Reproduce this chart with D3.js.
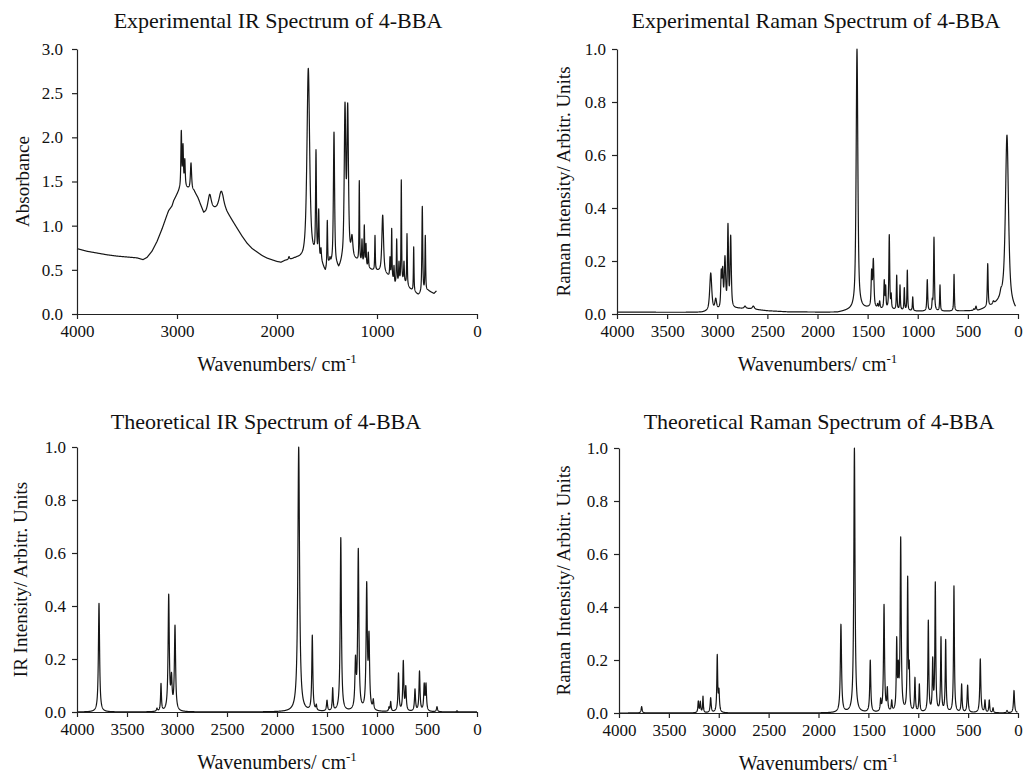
<!DOCTYPE html>
<html>
<head>
<meta charset="utf-8">
<script src="https://cdn.jsdelivr.net/npm/d3@7"></script>
<style>
  body { margin: 0; background: #fff; }
  text { font-family: "Liberation Serif", "Times New Roman", serif; fill: #111; }
</style>
</head>
<body>
<script>
// ---------------------------------------------------------------
// Spectral data for 4-bromobenzoic acid (4-BBA)
// Band lists: [wavenumber / cm-1, peak top, half width / cm-1]
// Baselines: [wavenumber / cm-1, value]
// ---------------------------------------------------------------

const expIRBaseline = [
  [4000, 0.74], [3900, 0.71], [3800, 0.69], [3700, 0.67], [3600, 0.655], [3500, 0.645],
  [3400, 0.635], [3340, 0.615], [3300, 0.64], [3250, 0.71], [3200, 0.82], [3150, 0.96],
  [3100, 1.12], [3083, 1.17], [3050, 1.22], [3033, 1.28], [3000, 1.35], [2975, 1.40],
  [2950, 1.43], [2920, 1.44], [2900, 1.42], [2870, 1.41], [2830, 1.39], [2790, 1.31],
  [2750, 1.19], [2733, 1.14], [2710, 1.15], [2690, 1.18], [2650, 1.19], [2620, 1.19],
  [2600, 1.20], [2570, 1.24], [2540, 1.24], [2500, 1.15], [2450, 1.06], [2400, 0.97],
  [2350, 0.88], [2300, 0.80], [2250, 0.74], [2200, 0.70], [2150, 0.66], [2100, 0.63],
  [2050, 0.61], [2000, 0.59], [1960, 0.58], [1920, 0.60], [1860, 0.61], [1800, 0.62],
  [1760, 0.61], [1740, 0.60], [1700, 0.62], [1650, 0.63], [1600, 0.61], [1550, 0.55],
  [1517, 0.46], [1480, 0.55], [1450, 0.54], [1400, 0.51], [1383, 0.48], [1350, 0.55],
  [1250, 0.62], [1200, 0.59], [1150, 0.56], [1100, 0.52], [1050, 0.49], [1000, 0.48],
  [950, 0.46], [900, 0.43], [850, 0.39], [820, 0.32], [780, 0.34], [737, 0.36],
  [700, 0.32], [670, 0.28], [620, 0.24], [587, 0.21], [560, 0.22], [520, 0.24],
  [490, 0.26], [470, 0.25], [430, 0.23], [405, 0.26]
];

const expIRBands = [
  [2957, 2.08, 5], [2940, 1.93, 5], [2922, 1.76, 5], [2860, 1.71, 7],
  [2673, 1.355, 18], [2557, 1.39, 22],
  [1880, 0.65, 6], [1830, 0.64, 5], [1780, 0.66, 6],
  [1687, 2.78, 16], [1610, 1.86, 5], [1583, 1.19, 5], [1560, 0.75, 5],
  [1497, 1.06, 4], [1470, 0.65, 4], [1430, 2.06, 7],
  [1320, 2.40, 9], [1293, 2.39, 9], [1250, 0.90, 10],
  [1177, 1.51, 3.5], [1150, 0.85, 4], [1127, 1.01, 4], [1110, 0.80, 4], [1087, 0.70, 4],
  [1020, 0.89, 3.5], [943, 1.12, 10], [870, 0.65, 4], [853, 0.97, 3.5], [830, 0.55, 4],
  [803, 0.85, 4], [780, 0.60, 4], [757, 1.52, 3.5], [730, 0.60, 4], [700, 0.91, 3.5],
  [633, 0.76, 3.5], [547, 1.22, 5], [517, 0.89, 4]
];

const expRamanBaseline = [
  [4000, 0.007], [3150, 0.006], [2800, 0.02], [2700, 0.02], [2500, 0.012], [2300, 0.008],
  [1800, 0.006], [1700, 0.012], [1500, 0.02], [1000, 0.01], [700, 0.01], [400, 0.012],
  [250, 0.03], [150, 0.05], [25, 0.01]
];

const expRamanBands = [
  [3065, 0.155, 12], [3015, 0.06, 10], [2960, 0.17, 6], [2946, 0.18, 6], [2923, 0.22, 8],
  [2893, 0.342, 6], [2866, 0.298, 7], [2723, 0.03, 10], [2640, 0.03, 12],
  [1606, 1.0, 10], [1460, 0.17, 6], [1443, 0.21, 7], [1400, 0.04, 5], [1380, 0.05, 5],
  [1334, 0.13, 5], [1320, 0.11, 4], [1284, 0.30, 5], [1265, 0.08, 4], [1210, 0.147, 4],
  [1177, 0.11, 4], [1134, 0.10, 4], [1104, 0.166, 4], [1050, 0.065, 4],
  [905, 0.13, 5], [855, 0.06, 4], [838, 0.29, 5], [778, 0.11, 4], [638, 0.15, 4],
  [440, 0.02, 6], [419, 0.03, 6], [302, 0.19, 5], [245, 0.05, 8], [170, 0.10, 10],
  [110, 0.675, 18]
];

const theoIRBands = [
  [3780, 0.41, 7], [3200, 0.015, 6], [3160, 0.108, 5], [3083, 0.445, 7], [3055, 0.15, 7],
  [3020, 0.328, 7],
  [1783, 1.0, 10], [1647, 0.29, 6], [1607, 0.03, 5], [1500, 0.045, 6], [1443, 0.092, 5],
  [1362, 0.658, 7], [1215, 0.215, 7], [1187, 0.618, 7], [1103, 0.492, 7], [1080, 0.305, 7],
  [1037, 0.05, 6], [880, 0.02, 5], [863, 0.04, 5], [785, 0.148, 6], [737, 0.195, 6],
  [712, 0.10, 6], [620, 0.087, 6], [575, 0.155, 6], [528, 0.11, 6], [510, 0.11, 6],
  [400, 0.02, 6], [200, 0.005, 5]
];

const theoRamanBands = [
  [3773, 0.024, 6], [3205, 0.046, 5], [3185, 0.045, 5], [3158, 0.064, 4], [3081, 0.058, 6],
  [3015, 0.221, 5], [2998, 0.094, 6],
  [1775, 0.335, 7], [1640, 1.0, 7], [1481, 0.20, 6], [1377, 0.057, 5], [1343, 0.41, 6],
  [1310, 0.10, 5], [1266, 0.05, 5], [1216, 0.288, 5], [1200, 0.20, 5], [1176, 0.665, 6],
  [1106, 0.517, 5], [1090, 0.20, 5], [1033, 0.135, 5], [989, 0.11, 5], [899, 0.351, 5],
  [855, 0.212, 5], [829, 0.495, 5], [772, 0.288, 5], [725, 0.278, 5], [642, 0.48, 5],
  [565, 0.11, 5], [505, 0.105, 6], [378, 0.204, 6], [331, 0.05, 5], [288, 0.05, 5],
  [250, 0.02, 5], [110, 0.01, 5], [40, 0.085, 6]
];

const xTicksThousand = [4000, 3000, 2000, 1000, 0];
const xTicksFiveHundred = [4000, 3500, 3000, 2500, 2000, 1500, 1000, 500, 0];
const yTicksAbsorbance = [0, 0.5, 1.0, 1.5, 2.0, 2.5, 3.0];
const yTicksUnit = [0, 0.2, 0.4, 0.6, 0.8, 1.0];

// ---------------------------------------------------------------
// Band profile (pseudo-Voigt; eta = Lorentzian fraction)
function profile(d, hw, eta) {
  const t = d / hw;
  return eta / (1 + t * t) + (1 - eta) * Math.exp(-Math.LN2 * t * t);
}

// Sum of bands on top of a baseline; amplitudes are adjusted so that
// every band maximum sits at its listed peak top.
function spectrum(bands, baseline, from, to, eta) {
  const base = baseline
    ? d3.scaleLinear().domain(baseline.map(d => d[0])).range(baseline.map(d => d[1])).clamp(true)
    : () => 0;
  const amp = bands.map(b => Math.max(0, b[1] - base(b[0])));
  for (let it = 0; it < 60; it++) {
    bands.forEach((b, i) => {
      let y = base(b[0]);
      bands.forEach((c, j) => { y += amp[j] * profile(b[0] - c[0], c[2], eta); });
      amp[i] = Math.max(0, amp[i] + 0.5 * (b[1] - y));
    });
  }
  const pts = [];
  for (let w = from; w >= to; w -= 1) {
    let y = base(w);
    bands.forEach((c, j) => { y += amp[j] * profile(w - c[0], c[2], eta); });
    pts.push([w, y]);
  }
  return pts;
}

const W = 1023, H = 774;
const svg = d3.select("body").append("svg").attr("width", W).attr("height", H);

const panels = [
  {
    title: "Experimental IR Spectrum of 4-BBA", titleX: 278, titleY: 28,
    yLabel: "Absorbance", yLabelX: 22,
    x0: 77, x1: 477, yTop: 49, yBot: 314,
    yMax: 3.0, yTicks: yTicksAbsorbance, xTicks: xTicksThousand, yPad: 9,
    data: spectrum(expIRBands, expIRBaseline, 4000, 405, 0.7)
  },
  {
    title: "Experimental Raman Spectrum of 4-BBA", titleX: 816, titleY: 28,
    yLabel: "Raman Intensity/ Arbitr. Units", yLabelX: 563,
    x0: 617, x1: 1018, yTop: 49, yBot: 314,
    yMax: 1.0, yTicks: yTicksUnit, xTicks: xTicksFiveHundred, yPad: 6,
    data: spectrum(expRamanBands, expRamanBaseline, 4000, 25, 0.7)
  },
  {
    title: "Theoretical IR Spectrum of 4-BBA", titleX: 266, titleY: 429,
    yLabel: "IR Intensity/ Arbitr. Units", yLabelX: 20,
    x0: 77, x1: 477, yTop: 447, yBot: 712,
    yMax: 1.0, yTicks: yTicksUnit, xTicks: xTicksFiveHundred, yPad: 6,
    data: spectrum(theoIRBands, null, 4000, 0, 1)
  },
  {
    title: "Theoretical Raman Spectrum of 4-BBA", titleX: 819, titleY: 429,
    yLabel: "Raman Intensity/ Arbitr. Units", yLabelX: 563,
    x0: 619, x1: 1018, yTop: 448, yBot: 713,
    yMax: 1.0, yTicks: yTicksUnit, xTicks: xTicksFiveHundred, yPad: 6,
    data: spectrum(theoRamanBands, null, 4000, 5, 1)
  }
];

panels.forEach(p => {
  const g = svg.append("g");
  const x = d3.scaleLinear().domain([4000, 0]).range([p.x0, p.x1]);
  const y = d3.scaleLinear().domain([0, p.yMax]).range([p.yBot, p.yTop]);

  // spectrum trace
  g.append("path")
    .datum(p.data)
    .attr("fill", "none")
    .attr("stroke", "#161616")
    .attr("stroke-width", 1.2)
    .attr("stroke-linejoin", "round")
    .attr("d", d3.line().x(d => x(d[0])).y(d => y(d[1])));

  // axes
  const xAxis = g.append("g")
    .attr("transform", `translate(0,${p.yBot})`)
    .call(d3.axisBottom(x).tickValues(p.xTicks).tickSize(5).tickSizeOuter(0)
      .tickPadding(6).tickFormat(d3.format("d")));
  const yAxis = g.append("g")
    .attr("transform", `translate(${p.x0},0)`)
    .call(d3.axisLeft(y).tickValues(p.yTicks).tickSize(5).tickSizeOuter(0)
      .tickPadding(p.yPad).tickFormat(d3.format(".1f")));
  [xAxis, yAxis].forEach(a => {
    a.selectAll("path,line").attr("stroke", "#222").attr("stroke-width", 1.2);
    a.selectAll("text").style("font-family", "Liberation Serif").style("font-size", "17px").attr("fill", "#111");
  });

  // title
  g.append("text")
    .attr("x", p.titleX).attr("y", p.titleY)
    .attr("text-anchor", "middle")
    .style("font-size", "22px")
    .text(p.title);

  // x axis label with superscript
  const xl = g.append("text")
    .attr("x", (p.x0 + p.x1) / 2).attr("y", p.yBot + 57)
    .attr("text-anchor", "middle")
    .style("font-size", "20px");
  xl.append("tspan").text("Wavenumbers/ cm");
  xl.append("tspan").attr("dy", -8).style("font-size", "13px").text("-1");

  // y axis label
  g.append("text")
    .attr("transform", `translate(${p.yLabelX},${(p.yTop + p.yBot) / 2}) rotate(-90)`)
    .attr("text-anchor", "middle")
    .attr("dy", "0.35em")
    .style("font-size", "19px")
    .text(p.yLabel);
});
</script>
</body>
</html>
